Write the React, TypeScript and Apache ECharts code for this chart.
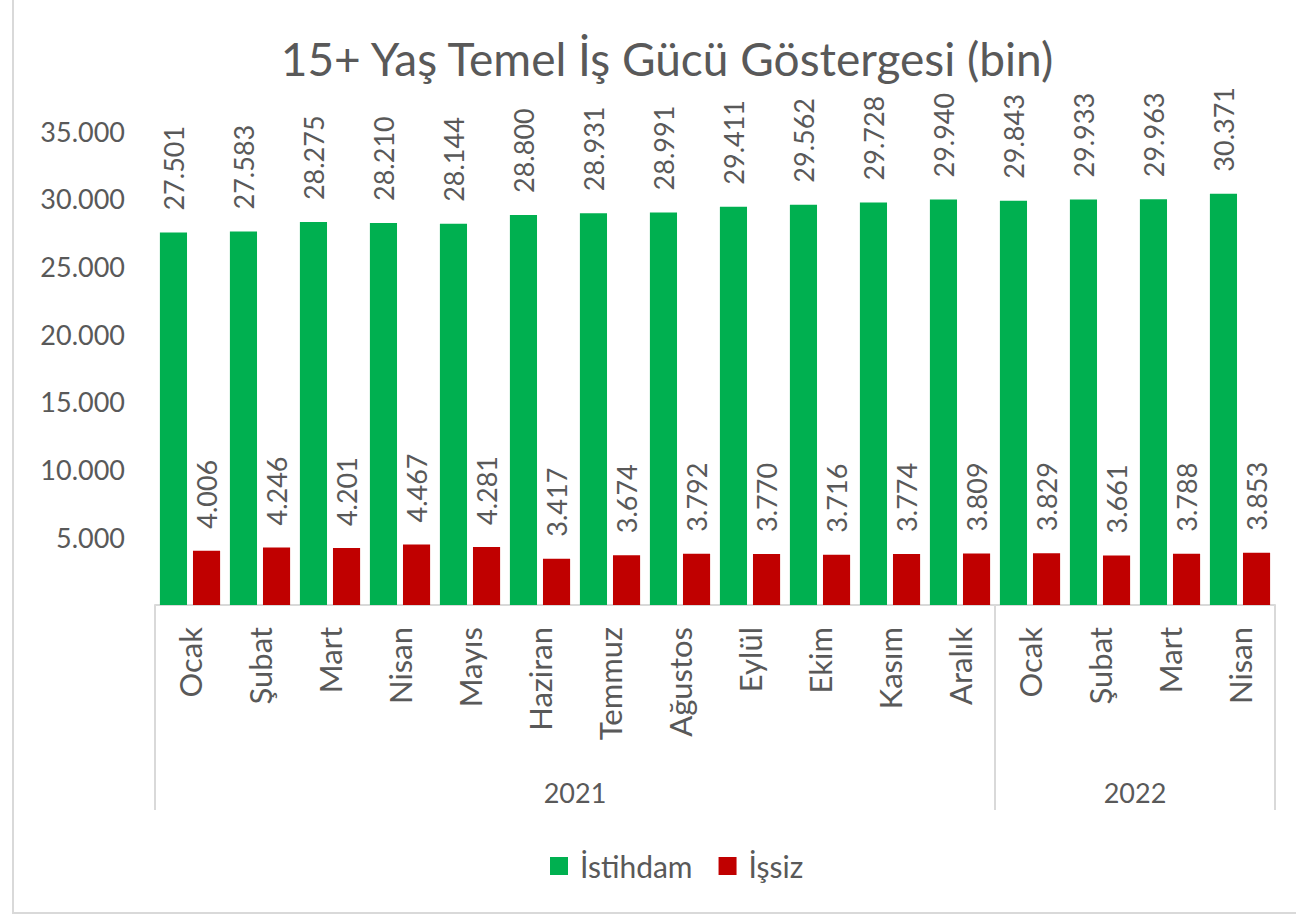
import React, { useEffect, useRef } from "react";
import * as echarts from "echarts";

const months = ["Ocak", "Şubat", "Mart", "Nisan", "Mayıs", "Haziran", "Temmuz", "Ağustos", "Eylül", "Ekim", "Kasım", "Aralık", "Ocak", "Şubat", "Mart", "Nisan"];
const years = [
  { label: "2021", start: 0, end: 11 },
  { label: "2022", start: 12, end: 15 },
];
const istihdam = [27501, 27583, 28275, 28210, 28144, 28800, 28931, 28991, 29411, 29562, 29728, 29940, 29843, 29933, 29963, 30371];
const issiz = [4006, 4246, 4201, 4467, 4281, 3417, 3674, 3792, 3770, 3716, 3774, 3809, 3829, 3661, 3788, 3853];

const FONT = "Lato, 'Noto Sans', sans-serif";
const TXT = "#595959";
const GRID_LINE = "#D9D9D9";

function fmt(v: number): string {
  const s = Math.round(v).toString();
  return s.replace(/\B(?=(\d{3})+(?!\d))/g, ".");
}

export default function App() {
  const ref = useRef<HTMLDivElement>(null);
  useEffect(() => {
    if (!ref.current) return;
    const chart = echarts.init(ref.current, null, { renderer: "svg" });
    const labelCommon = {
      show: true,
      position: "top" as const,
      rotate: 90,
      align: "left" as const,
      verticalAlign: "middle" as const,
      distance: 22,
      fontFamily: FONT,
      fontSize: 27,
      color: TXT,
      formatter: (p: any) => fmt(p.value),
    };
    chart.setOption({
      animation: false,
      backgroundColor: "#ffffff",
      title: {
        text: "15+ Yaş Temel İş Gücü Göstergesi (bin)",
        left: 662,
        textAlign: "center",
        top: 30,
        textStyle: { fontFamily: FONT, fontSize: 46, fontWeight: "normal", color: TXT },
      },
      legend: {
        data: ["İstihdam", "İşsiz"],
        left: 545,
        top: 846,
        itemWidth: 18,
        itemHeight: 18,
        itemGap: 26,
        icon: "rect",
        textStyle: { fontFamily: FONT, fontSize: 30, color: TXT, padding: [0, 0, 0, 7] },
      },
      grid: { left: 155, right: 21, top: 131, bottom: 315, containLabel: false },
      xAxis: {
        type: "category",
        data: months,
        axisLine: { show: true, lineStyle: { color: GRID_LINE, width: 2 } },
        axisTick: { show: false },
        axisLabel: {
          rotate: 90,
          interval: 0,
          margin: 22,
          fontFamily: FONT,
          fontSize: 31,
          color: TXT,
        },
      },
      yAxis: {
        type: "value",
        min: 0,
        max: 35000,
        interval: 5000,
        splitLine: { show: false },
        axisLine: { show: false },
        axisTick: { show: false },
        axisLabel: {
          margin: 30,
          fontFamily: FONT,
          fontSize: 27,
          color: TXT,
          formatter: (v: number) => (v === 0 ? "" : fmt(v)),
        },
      },
      series: [
        {
          name: "İstihdam",
          type: "bar",
          data: istihdam,
          itemStyle: { color: "#00B050" },
          barGap: "22%",
          barCategoryGap: "14%",
          label: labelCommon,
        },
        {
          name: "İşsiz",
          type: "bar",
          data: issiz,
          itemStyle: { color: "#C00000" },
          label: labelCommon,
        },
      ],
    });

    const graphics: any[] = [];
    const y0 = chart.convertToPixel({ yAxisIndex: 0 }, 0) as number;
    const x0 = chart.convertToPixel({ xAxisIndex: 0 }, 0) as number;
    const x1 = chart.convertToPixel({ xAxisIndex: 0 }, 1) as number;
    const step = x1 - x0;
    const boundaries = new Set<number>();
    years.forEach((yr) => {
      const left = (chart.convertToPixel({ xAxisIndex: 0 }, yr.start) as number) - step / 2;
      const right = (chart.convertToPixel({ xAxisIndex: 0 }, yr.end) as number) + step / 2;
      boundaries.add(Math.round(left));
      boundaries.add(Math.round(right));
      graphics.push({
        type: "text",
        x: (left + right) / 2,
        y: y0 + 187,
        style: {
          text: yr.label,
          fontFamily: FONT,
          fontSize: 27,
          fill: TXT,
          align: "center",
          verticalAlign: "middle",
        },
      });
    });
    boundaries.forEach((bx) => {
      graphics.push({
        type: "line",
        shape: { x1: bx, y1: y0, x2: bx, y2: y0 + 205 },
        style: { stroke: GRID_LINE, lineWidth: 2 },
      });
    });
    graphics.push({
      type: "rect",
      shape: { x: 13, y: -5, width: 1300, height: 918 },
      style: { fill: "none", stroke: GRID_LINE, lineWidth: 2 },
      silent: true,
    });
    chart.setOption({ graphic: graphics });

    return () => chart.dispose();
  }, []);
  return (
    <div
      ref={ref}
      style={{ position: "absolute", left: 0, top: 0, width: 1296, height: 920 }}
    />
  );
}
